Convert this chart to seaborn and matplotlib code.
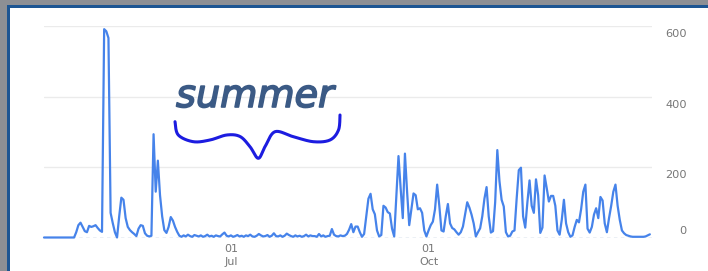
import numpy as np
import pandas as pd
import matplotlib
matplotlib.use("Agg")
import matplotlib.pyplot as plt
import matplotlib.patheffects as pe
import seaborn as sns
from matplotlib.transforms import Affine2D, blended_transform_factory, offset_copy
from matplotlib.patches import Rectangle

# ---------------- data ----------------
start_date = "2018-04-05"
spring_views = [0, 0, 0, 0, 0, 0, 0, 0, 0, 0, 0, 0, 0, 0, 0,
                15, 35, 42, 30, 18, 15, 33, 30, 32, 35,
                27, 20, 16, 591, 585, 566, 70, 41, 15, 0,
                60, 113, 107, 55, 30, 21, 15, 10, 4, 25,
                35, 33, 12, 5, 3, 5, 293, 130, 218, 120,
                60, 21, 13, 30, 58, 48, 30, 16, 5, 2]
summer_views = [6, 3, 8, 4, 2, 7, 5, 3, 6, 2,
                4, 8, 3, 5, 2, 6, 4, 3, 9, 14,
                5, 3, 6, 2, 4, 7, 3, 5, 2, 6,
                4, 8, 3, 2, 5, 10, 6, 3, 4, 7,
                2, 5, 12, 4, 3, 6, 2, 5, 11, 7,
                4, 2, 6, 3, 5, 2, 4, 8, 3, 6,
                4, 4, 2, 10, 3, 6, 2, 4]
autumn_views = [5, 24, 8, 4, 3, 6, 4, 5, 10, 22,
                38, 15, 31, 31, 15, 2, 10, 60, 110, 124,
                80, 66, 20, 3, 7, 90, 85, 72, 68, 25,
                3, 120, 231, 140, 55, 238, 130, 35, 80, 125,
                120, 80, 83, 70, 20, 3, 20, 35, 45, 80,
                150, 90, 20, 17, 60, 95, 40, 27, 23, 15,
                8, 15, 31, 65, 100, 85, 65, 40, 3, 15,
                26, 60, 110, 143, 60, 14, 18, 100, 248, 160,
                107, 88, 15, 3, 5, 17, 20, 110, 191, 198,
                60, 28, 100, 162, 90, 70, 165, 120, 13, 28,
                176, 140, 102, 118, 118, 90, 20, 8, 50, 107,
                40, 15, 2, 6, 30, 50, 43, 80, 130, 150,
                25, 14, 30, 65, 83, 55, 115, 105, 40, 15,
                55, 90, 130, 150, 90, 50, 20, 12, 7, 5,
                3, 2, 2, 2, 2, 2, 2, 3, 6, 9]
y_ticks = [0, 200, 400, 600]
x_tick_dates = ["2018-07-01", "2018-10-01"]
x_tick_labels = ["01\nJul", "01\nOct"]
annotation_text = "summer"

values = spring_views + summer_views + autumn_views
dates = pd.date_range(start_date, periods=len(values), freq="D")
df = pd.DataFrame({"date": dates, "views": values})

# ---------------- figure ----------------
sns.set_style("white")
plt.rcParams["font.family"] = ["DejaVu Sans"]

W, H = 708, 271
fig = plt.figure(figsize=(W / 100, H / 100), dpi=100)
fig.patch.set_facecolor("#8d8f94")
px = Affine2D().scale(1 / W, -1 / H).translate(0, 1) + fig.transFigure

fig.add_artist(Rectangle((7, 5), 800, 400, transform=px, facecolor="#1d5592",
                         edgecolor="none", zorder=-10))
fig.add_artist(Rectangle((10, 8), 800, 400, transform=px, facecolor="white",
                         edgecolor="none", zorder=-9))

ax = fig.add_axes([44 / W, (H - 237.5) / H, 608 / W, 211.5 / H])
ax.set_facecolor("none")

for v in y_ticks[1:]:
    ax.axhline(v, color="#ebebeb", lw=1.0, zorder=1)
ax.axhline(0, color="#a3b4cf", lw=1.0, ls=(0, (2.5, 2.5)), zorder=2)

sns.lineplot(data=df, x="date", y="views", ax=ax, color="#4683ea",
             linewidth=1.6, clip_on=False, zorder=3)

ax.set_ylim(0, 600)
ax.set_xlim(dates[0], dates[0] + pd.Timedelta(days=283))
sns.despine(ax=ax, left=True, bottom=True, top=True, right=True)
ax.set_xlabel("")
ax.set_ylabel("")
ax.set_yticks([])
ax.set_xticks(pd.to_datetime(x_tick_dates))
ax.set_xticklabels(x_tick_labels)
ax.tick_params(axis="x", length=0, pad=5, labelsize=8, labelcolor="#777777")
for lbl in ax.get_xticklabels():
    lbl.set_linespacing(1.35)

# right-hand value labels (Google chart style: under the gridline, 0 above)
bt = blended_transform_factory(ax.transAxes, ax.transData)
for v in y_ticks:
    dy = 7 if v == 0 else -8
    tr = offset_copy(bt, fig=fig, y=dy, units="dots")
    ax.text((687 - 44) / 608, v, str(v), transform=tr, ha="right", va="center",
            fontsize=8.2, color="#777777")

# hand-written annotation
fig.text(255, 107, annotation_text, transform=px, ha="center", va="baseline",
         fontsize=27.5, fontstyle="italic", color="#3b5a85",
         path_effects=[pe.withStroke(linewidth=1.2, foreground="#3b5a85")])

brace_pts = np.array([
    (175, 121.7), (178.3, 135), (193.3, 141.7), (210, 140), (226.7, 135),
    (240, 136.5), (250, 146.7), (258.3, 158.3), (265, 146.7), (275, 131.7),
    (293.3, 136.7), (313.3, 141.7), (330, 140), (338.5, 130), (340, 115)])


def catmull(p, n=20):
    p = np.vstack([p[0], p, p[-1]])
    out = []
    for i in range(1, len(p) - 2):
        p0, p1, p2, p3 = p[i - 1], p[i], p[i + 1], p[i + 2]
        t = np.linspace(0, 1, n, endpoint=False)[:, None]
        out.append(0.5 * ((2 * p1) + (-p0 + p2) * t + (2 * p0 - 5 * p1 + 4 * p2 - p3) * t ** 2
                          + (-p0 + 3 * p1 - 3 * p2 + p3) * t ** 3))
    out.append(p[-2][None, :])
    return np.vstack(out)


curve = catmull(brace_pts)
fig.add_artist(plt.Line2D(curve[:, 0], curve[:, 1], transform=px, color="#1c1ce0",
                          lw=2.2, solid_capstyle="round", solid_joinstyle="round"))

fig.savefig("out.png", dpi=100, facecolor=fig.get_facecolor())
